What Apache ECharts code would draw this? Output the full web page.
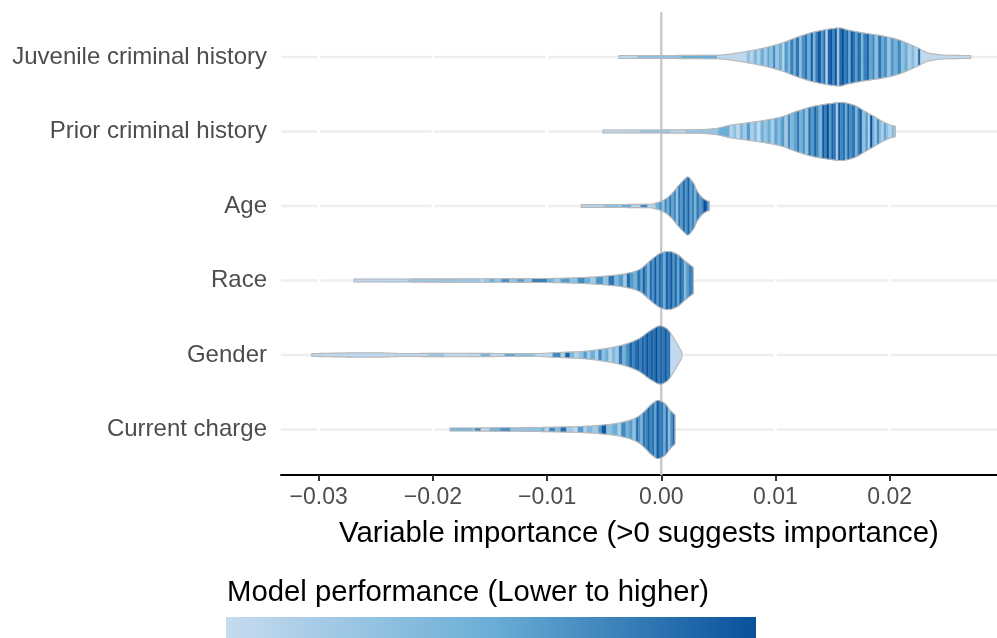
<!DOCTYPE html>
<html>
<head>
<meta charset="utf-8">
<script src="https://cdn.jsdelivr.net/npm/echarts@6/dist/echarts.min.js"></script>
<style>
  html, body { margin: 0; padding: 0; background: #ffffff; }
  #chart { width: 997px; height: 638px; }
</style>
</head>
<body>
<div id="chart"></div>
<script>
// Predictor names, top to bottom
const categories = ['Juvenile criminal history', 'Prior criminal history', 'Age', 'Race', 'Gender', 'Current charge'];

// X axis ticks
const tickValues = [-0.03, -0.02, -0.01, 0.00, 0.01, 0.02];
const tickLabels = ['\u22120.03', '\u22120.02', '\u22120.01', '0.00', '0.01', '0.02'];

// Violin outlines: [importance, relative density]
const juvenileOutline = [[-0.0037,0.05],[0.0047,0.06],[0.0076,0.2],[0.0105,0.47],[0.0119,0.68],[0.0134,0.86],[0.0149,0.97],[0.0156,1.0],[0.0163,0.93],[0.0178,0.82],[0.0193,0.73],[0.0207,0.6],[0.0222,0.36],[0.0236,0.12],[0.0251,0.06],[0.0271,0.05]];
const priorOutline = [[-0.0051,0.05],[0.0032,0.06],[0.0047,0.1],[0.0061,0.22],[0.0076,0.3],[0.0090,0.38],[0.0105,0.5],[0.0119,0.7],[0.0134,0.87],[0.0148,0.96],[0.0157,1.0],[0.0169,0.9],[0.0178,0.7],[0.0187,0.5],[0.0195,0.32],[0.0201,0.22],[0.0205,0.18]];
const ageOutline = [[-0.0070,0.05],[-0.0010,0.06],[-0.0003,0.12],[0.0003,0.22],[0.0009,0.41],[0.0014,0.65],[0.0020,0.9],[0.0023,1.0],[0.0028,0.8],[0.0032,0.48],[0.0038,0.22],[0.0042,0.15]];
const raceOutline = [[-0.0269,0.05],[-0.0158,0.06],[-0.0099,0.07],[-0.0070,0.1],[-0.0041,0.18],[-0.0027,0.27],[-0.0018,0.4],[-0.0012,0.6],[-0.0006,0.8],[0.0000,0.95],[0.0006,1.0],[0.0014,0.9],[0.0020,0.7],[0.0028,0.45]];
const genderOutline = [[-0.0306,0.05],[-0.0254,0.08],[-0.0224,0.05],[-0.0195,0.06],[-0.0108,0.05],[-0.0093,0.08],[-0.0070,0.12],[-0.0049,0.22],[-0.0035,0.33],[-0.0020,0.55],[-0.0009,0.85],[-0.0001,1.0],[0.0005,0.9],[0.0009,0.7],[0.0013,0.45],[0.0018,0.1]];
const chargeOutline = [[-0.0185,0.05],[-0.0131,0.06],[-0.0073,0.1],[-0.0044,0.18],[-0.0029,0.3],[-0.0020,0.45],[-0.0014,0.65],[-0.0009,0.85],[-0.0003,1.0],[0.0003,0.9],[0.0007,0.7],[0.0012,0.5]];

// Individual models: [importance, model performance 0 (lower) .. 1 (higher)]
const juvenileModels = [[-0.0037,0.05],[-0.0021,0.3],[0.0018,0.5],[0.0049,0.05],[0.0075,0.3],[0.0078,0.1],[0.0081,0.4],[0.0084,0.15],[0.0087,0.5],[0.0090,0.2],[0.0093,0.55],[0.0095,0.3],[0.0098,0.7],[0.0100,0.25],[0.0103,0.5],[0.0106,0.1],[0.0108,0.6],[0.0111,0.35],[0.0113,0.75],[0.0116,0.45],[0.0118,0.8],[0.0121,0.3],[0.0123,0.65],[0.0126,0.85],[0.0128,0.5],[0.0131,0.9],[0.0133,0.4],[0.0135,0.75],[0.0137,0.95],[0.0140,0.6],[0.0142,0.85],[0.0144,0.1],[0.0146,0.9],[0.0148,1.0],[0.0150,0.7],[0.0152,0.95],[0.0154,0.2],[0.0156,0.85],[0.0158,1.0],[0.0160,0.75],[0.0162,0.9],[0.0164,0.5],[0.0166,0.95],[0.0168,0.8],[0.0170,0.6],[0.0172,0.85],[0.0175,0.4],[0.0177,0.75],[0.0180,0.9],[0.0182,0.55],[0.0185,0.7],[0.0187,0.3],[0.0190,0.8],[0.0193,0.5],[0.0195,0.65],[0.0198,0.25],[0.0201,0.6],[0.0204,0.45],[0.0207,0.7],[0.0210,0.3],[0.0213,0.5],[0.0216,0.15],[0.0219,0.35],[0.0222,0.1],[0.0225,0.85],[0.0227,0.02]];
const priorModels = [[-0.0051,0.05],[-0.0018,0.25],[0.0008,0.05],[0.0021,0.25],[0.0050,0.5],[0.0060,0.1],[0.0063,0.3],[0.0066,0.05],[0.0069,0.4],[0.0072,0.2],[0.0075,0.6],[0.0078,0.15],[0.0081,0.35],[0.0084,0.05],[0.0087,0.45],[0.0090,0.25],[0.0093,0.5],[0.0096,0.15],[0.0099,0.55],[0.0102,0.35],[0.0105,0.6],[0.0108,0.2],[0.0111,0.7],[0.0113,0.4],[0.0116,0.55],[0.0119,0.8],[0.0121,0.45],[0.0124,0.65],[0.0126,0.3],[0.0129,0.85],[0.0131,0.6],[0.0134,0.9],[0.0136,0.7],[0.0138,0.4],[0.0141,0.95],[0.0143,0.75],[0.0145,1.0],[0.0147,0.6],[0.0149,0.9],[0.0151,0.8],[0.0153,0.15],[0.0155,0.95],[0.0157,0.7],[0.0159,0.85],[0.0161,0.5],[0.0163,0.9],[0.0165,0.65],[0.0167,0.8],[0.0170,0.4],[0.0172,0.75],[0.0174,0.9],[0.0176,0.3],[0.0179,0.6],[0.0181,0.1],[0.0183,1.0],[0.0185,0.45],[0.0187,0.2],[0.0189,0.7],[0.0191,0.35],[0.0193,0.15],[0.0195,0.55],[0.0197,0.3],[0.0199,0.1],[0.0202,0.35],[0.0204,0.2]];
const ageModels = [[-0.0070,0.1],[-0.0050,0.3],[-0.0036,0.05],[-0.0035,0.5],[-0.0026,0.1],[-0.0018,0.7],[-0.0012,0.1],[-0.0005,0.45],[-0.0002,0.6],[0.0001,0.3],[0.0003,0.7],[0.0005,0.45],[0.0007,0.8],[0.0009,0.55],[0.0011,0.7],[0.0013,0.3],[0.0015,0.8],[0.0017,0.6],[0.0019,0.85],[0.0021,0.65],[0.0023,0.9],[0.0025,0.55],[0.0027,0.75],[0.0029,0.45],[0.0031,0.8],[0.0033,0.6],[0.0035,0.7],[0.0037,1.0],[0.0040,0.65]];
const raceModels = [[-0.0269,0.05],[-0.0222,0.25],[-0.0158,0.05],[-0.0155,0.25],[-0.0150,0.5],[-0.0146,0.25],[-0.0140,0.7],[-0.0133,0.3],[-0.0126,0.6],[-0.0120,0.25],[-0.0113,0.75],[-0.0100,0.45],[-0.0094,0.2],[-0.0088,0.6],[-0.0080,0.3],[-0.0073,0.7],[-0.0067,0.5],[-0.0062,0.2],[-0.0057,0.65],[-0.0051,0.3],[-0.0046,0.8],[-0.0041,0.4],[-0.0037,0.6],[-0.0033,0.2],[-0.0030,0.85],[-0.0027,0.6],[-0.0024,0.45],[-0.0021,0.8],[-0.0018,0.55],[-0.0016,0.9],[-0.0014,0.7],[-0.0012,0.4],[-0.0010,0.85],[-0.0008,0.65],[-0.0006,0.95],[-0.0004,0.6],[-0.0002,0.85],[0.0000,0.75],[0.0002,0.5],[0.0004,0.9],[0.0006,0.75],[0.0008,0.95],[0.0010,0.65],[0.0012,0.85],[0.0014,0.55],[0.0016,0.9],[0.0018,0.75],[0.0020,0.35],[0.0022,0.6],[0.0024,0.75]];
const genderModels = [[-0.0306,0.05],[-0.0204,0.25],[-0.0190,0.05],[-0.0158,0.45],[-0.0150,0.05],[-0.0137,0.55],[-0.0128,0.3],[-0.0110,0.05],[-0.0095,0.7],[-0.0088,0.15],[-0.0084,0.9],[-0.0080,0.4],[-0.0076,0.1],[-0.0072,0.3],[-0.0068,0.6],[-0.0065,0.2],[-0.0062,0.5],[-0.0058,0.15],[-0.0055,0.7],[-0.0052,0.3],[-0.0049,0.5],[-0.0046,0.1],[-0.0043,0.4],[-0.0040,0.2],[-0.0037,0.8],[-0.0034,0.45],[-0.0031,0.65],[-0.0028,0.9],[-0.0025,0.7],[-0.0023,0.85],[-0.0021,0.95],[-0.0019,0.75],[-0.0017,0.9],[-0.0015,0.8],[-0.0013,1.0],[-0.0011,0.8],[-0.0009,0.9],[-0.0007,0.85],[-0.0005,1.0],[-0.0003,0.75],[-0.0001,0.9],[0.0001,0.8],[0.0003,0.95],[0.0005,0.7],[0.0006,0.85],[0.0008,0.02]];
const chargeModels = [[-0.0185,0.45],[-0.0165,0.25],[-0.0163,0.75],[-0.0158,0.05],[-0.0150,0.5],[-0.0141,0.7],[-0.0132,0.3],[-0.0105,0.5],[-0.0102,0.1],[-0.0098,0.7],[-0.0093,0.35],[-0.0088,0.85],[-0.0083,0.2],[-0.0077,0.05],[-0.0073,0.6],[-0.0068,0.15],[-0.0065,0.4],[-0.0060,0.2],[-0.0055,0.6],[-0.0052,0.95],[-0.0048,0.3],[-0.0043,0.5],[-0.0038,0.15],[-0.0035,0.7],[-0.0031,0.45],[-0.0028,0.6],[-0.0025,0.3],[-0.0022,0.85],[-0.0020,0.65],[-0.0018,0.4],[-0.0016,0.8],[-0.0014,0.7],[-0.0012,0.9],[-0.0010,0.7],[-0.0008,0.85],[-0.0006,0.55],[-0.0004,0.95],[-0.0002,0.75],[0.0000,0.8],[0.0002,0.5],[0.0004,0.85],[0.0006,0.3],[0.0008,0.65],[0.0010,0.85]];

const outlines = [juvenileOutline, priorOutline, ageOutline, raceOutline, genderOutline, chargeOutline];
const models = [juvenileModels, priorModels, ageModels, raceModels, genderModels, chargeModels];

// Blues ramp for model performance
const perfColors = ['#c6dbef', '#6baed6', '#08519c'];
const FONT = '"Liberation Sans", Arial, Helvetica, sans-serif';

// Monotone cubic (Fritsch-Carlson) interpolation for a smooth violin edge
function monotone(xs, ys) {
  const n = xs.length, dx = [], m = [], t = [];
  for (let k = 0; k < n - 1; k++) { dx[k] = xs[k + 1] - xs[k]; m[k] = (ys[k + 1] - ys[k]) / dx[k]; }
  t[0] = m[0];
  for (let k = 1; k < n - 1; k++) {
    t[k] = (m[k - 1] * m[k] <= 0) ? 0 :
      3 * (dx[k - 1] + dx[k]) / ((2 * dx[k] + dx[k - 1]) / m[k - 1] + (dx[k] + 2 * dx[k - 1]) / m[k]);
  }
  t[n - 1] = m[n - 2];
  return function (x) {
    if (x <= xs[0]) return ys[0];
    if (x >= xs[n - 1]) return ys[n - 1];
    let k = 0;
    while (k < n - 2 && x > xs[k + 1]) k++;
    const h = dx[k], s = (x - xs[k]) / h, s2 = s * s, s3 = s2 * s;
    return (2 * s3 - 3 * s2 + 1) * ys[k] + (s3 - 2 * s2 + s) * h * t[k] +
      (-2 * s3 + 3 * s2) * ys[k + 1] + (s3 - s2) * h * t[k + 1];
  };
}

// Polygon of the violin between pixel columns a..b
function slab(a, b, half, yc) {
  const top = [], bot = [];
  const xsList = [a];
  for (let x = Math.ceil(a + 0.5); x < b; x += 1) xsList.push(x);
  xsList.push(b);
  xsList.forEach(function (x) { const h = half(x); top.push([x, yc - h]); bot.push([x, yc + h]); });
  return top.concat(bot.reverse());
}

function renderViolin(params, api) {
  const i = params.dataIndex;
  const outline = outlines[i], pts = models[i];
  const yc = api.coord([0, i])[1];
  const band = api.size([0, 1])[1];
  const maxHalf = band * 0.39;
  const px = function (v) { return api.coord([v, i])[0]; };
  const half = monotone(outline.map(function (p) { return px(p[0]); }),
                        outline.map(function (p) { return Math.max(0, p[1]) * maxHalf; }));
  const xStart = px(outline[0][0]), xEnd = px(outline[outline.length - 1][0]);
  const children = [];
  for (let k = 0; k < pts.length; k++) {
    const a = Math.max(xStart, px(pts[k][0]));
    const b = k + 1 < pts.length ? px(pts[k + 1][0]) : xEnd;
    if (b <= a) continue;
    const col = echarts.color.lerp(pts[k][1], perfColors);
    children.push({
      type: 'polygon',
      shape: { points: slab(a, b, half, yc) },
      style: { fill: col, stroke: col, lineWidth: 0.4 },
      silent: true
    });
  }
  children.push({
    type: 'polygon',
    shape: { points: slab(xStart, xEnd, half, yc) },
    style: { fill: 'none', stroke: '#b8b8b8', lineWidth: 1.1 },
    silent: true
  });
  return { type: 'group', children: children };
}

// Horizontal guides, white gaps at major x ticks, and the zero reference line
function renderGuides(params, api) {
  const i = params.dataIndex;
  const cs = params.coordSys;
  const yc = api.coord([0, i])[1];
  const band = api.size([0, 1])[1];
  const children = [{
    type: 'line',
    shape: { x1: cs.x, y1: yc, x2: cs.x + cs.width, y2: yc },
    style: { stroke: '#eeeeee', lineWidth: 2.4 },
    silent: true
  }];
  tickValues.forEach(function (v) {
    if (v === 0) return;
    const x = api.coord([v, i])[0];
    children.push({ type: 'rect', shape: { x: x - 1.4, y: yc - 3, width: 2.8, height: 6 },
      style: { fill: '#ffffff' }, silent: true });
  });
  if (i === 0) {
    const x0 = api.coord([0, 0])[0];
    const yTop = yc - band * 0.6;
    const yBot = api.coord([0, categories.length - 1])[1] + band * 0.6 + 1;
    children.push({ type: 'line', shape: { x1: x0, y1: yTop, x2: x0, y2: yBot },
      style: { stroke: '#c4c4c4', lineWidth: 2.2 }, silent: true });
  }
  return { type: 'group', children: children };
}

const chart = echarts.init(document.getElementById('chart'), null, { renderer: 'canvas' });
const catData = categories.map(function (_, i) { return [0, i]; });

chart.setOption({
  animation: false,
  backgroundColor: '#ffffff',
  grid: { left: 281, right: 0, top: 19.75, bottom: 171.25, containLabel: false },
  xAxis: {
    type: 'value',
    min: -0.0333,
    max: 0.0294,
    offset: 8.25,
    axisLine: { show: true, lineStyle: { color: '#000000', width: 2 } },
    axisTick: { show: true, customValues: tickValues, length: 6, lineStyle: { color: '#333333', width: 2 } },
    axisLabel: {
      customValues: tickValues,
      margin: 11,
      color: '#4d4d4d',
      fontSize: 23,
      fontFamily: FONT,
      formatter: function (v) {
        const k = tickValues.findIndex(function (t) { return Math.abs(t - v) < 1e-9; });
        return k >= 0 ? tickLabels[k] : '';
      }
    },
    splitLine: { show: false },
    name: 'Variable importance (>0 suggests importance)',
    nameLocation: 'middle',
    nameGap: 44,
    nameTextStyle: { color: '#000000', fontSize: 29.4, fontFamily: FONT, padding: 0 }
  },
  yAxis: {
    type: 'category',
    inverse: true,
    data: categories,
    axisLine: { show: false },
    axisTick: { show: false },
    splitLine: { show: false },
    axisLabel: { margin: 14, color: '#4d4d4d', fontSize: 24, fontFamily: FONT }
  },
  graphic: [
    {
      type: 'text', left: 227, top: 578,
      style: { text: 'Model performance (Lower to higher)', fill: '#000000', fontSize: 29.3, fontFamily: FONT }
    },
    {
      type: 'rect', left: 226, top: 617,
      shape: { width: 530, height: 26 },
      style: {
        fill: new echarts.graphic.LinearGradient(0, 0, 1, 0, [
          { offset: 0, color: perfColors[0] },
          { offset: 0.5, color: perfColors[1] },
          { offset: 1, color: perfColors[2] }
        ])
      }
    }
  ],
  series: [
    { type: 'custom', name: 'guides', z: 1, silent: true, renderItem: renderGuides, data: catData },
    { type: 'custom', name: 'importance', z: 2, silent: true, renderItem: renderViolin, data: catData }
  ]
});
</script>
</body>
</html>
